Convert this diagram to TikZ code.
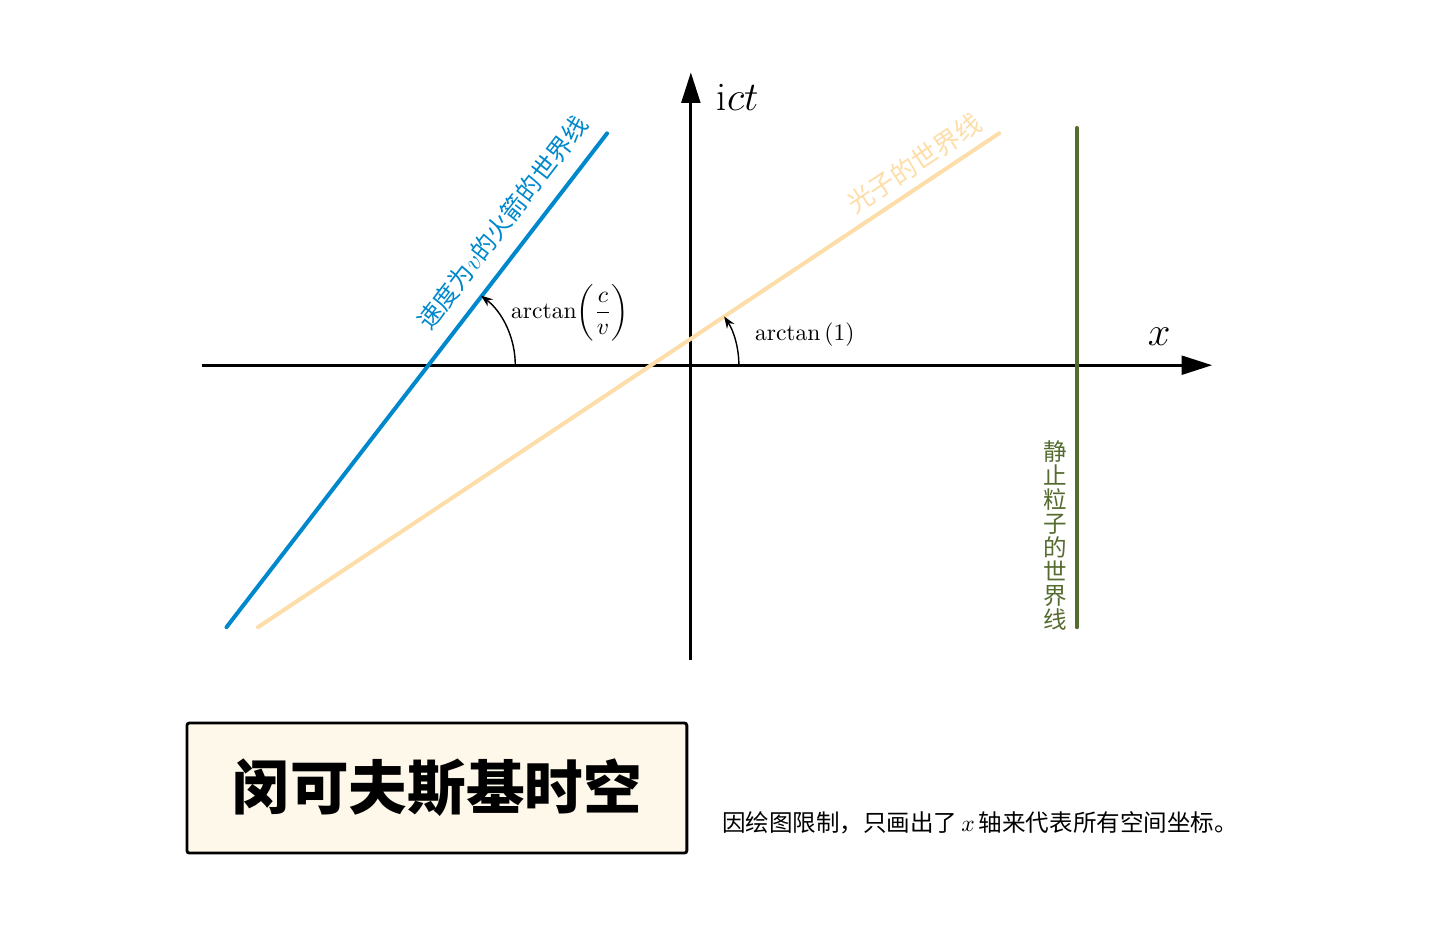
\documentclass[tikz,border=0pt]{standalone}
\usepackage{amsmath}
\usepackage{fontspec}
\newfontfamily\cjk{Noto Sans CJK SC}
\usepackage{xcolor}
\usepackage{tikz}
\usetikzlibrary{arrows.meta, positioning}

\definecolor{rocketblue}{HTML}{0088CC}
\definecolor{photonorange}{HTML}{FDDDA8}
\definecolor{restgreen}{HTML}{556B2F}
\definecolor{titlefill}{HTML}{FEF8EA}

\begin{document}
\begin{tikzpicture}[
    axis/.style={very thick, -{Triangle[length=13pt, width=8pt]}},
    worldline/.style={line width=1.7pt, line cap=round},
    anglearrow/.style={semithick, -{Stealth[length=5pt]}},
    linelabel/.style={font=\cjk\fontsize{10.5}{10.5}\selectfont},
]
    \useasboundingbox (-10.31,-8.42) rectangle (11.18,5.45);

    % Axes
    \coordinate (origin) at (0,0);
    \coordinate (x_left) at (-7.30,0);
    \coordinate (x_right) at (7.78,0);
    \coordinate (t_bottom) at (0,-4.40);
    \coordinate (t_top) at (0,4.37);
    \draw[axis] (x_left) -- (x_right);
    \draw[axis] (t_bottom) -- (t_top);
    \node[font=\LARGE] (t_label) at (0.70,4.00) {$\mathrm{i}ct$};
    \node[font=\LARGE] (x_label) at (6.99,0.42) {$x$};

    % World lines
    \coordinate (rocket_start) at (-6.93,-3.91);
    \coordinate (rocket_end) at (-1.25,3.46);
    \coordinate (photon_start) at (-6.46,-3.91);
    \coordinate (photon_end) at (4.60,3.46);
    \coordinate (rest_top) at (5.76,3.54);
    \coordinate (rest_bottom) at (5.76,-3.91);
    \draw[worldline, rocketblue] (rocket_start) -- node[pos=0.784, sloped, above=3pt, linelabel, text=rocketblue] (rocket_label) {速度为$v$的火箭的世界线} (rocket_end);
    \draw[worldline, photonorange] (photon_start) -- node[pos=0.902, sloped, above, linelabel, font=\cjk\fontsize{11}{11}\selectfont, text=photonorange] (photon_label) {光子的世界线} (photon_end);
    \draw[worldline, restgreen] (rest_top) -- node[pos=0.816, left, linelabel, font=\cjk\fontsize{10}{10.2}\selectfont, align=center, text=restgreen] (rest_label) {静\\止\\粒\\子\\的\\世\\界\\线} (rest_bottom);

    % Angles
    \coordinate (rocket_cross) at (-3.93,0);
    \coordinate (photon_cross) at (-0.593,0);
    \draw[anglearrow] ([xshift=1.31cm]rocket_cross) arc[start angle=0, end angle=52.4, radius=1.31cm];
    \draw[anglearrow] ([xshift=1.31cm]photon_cross) arc[start angle=0, end angle=33.7, radius=1.31cm];
    \node (rocket_angle) at (-1.80,0.78) {$\arctan\biggl(\dfrac{c}{v}\biggr)$};
    \node (photon_angle) at (1.70,0.45) {$\arctan\left(1\right)$};

    % Title and note
    \node[draw, very thick, rounded corners=1pt, fill=titlefill, minimum width=7.46cm, minimum height=1.94cm, font=\cjk\bfseries\Huge] (title_box) at (-3.79,-6.31) {闵可夫斯基时空};
    \node[anchor=west, font=\cjk] (note) at ([xshift=0.38cm, yshift=-0.52cm]title_box.east) {因绘图限制，只画出了\,$x$\,轴来代表所有空间坐标。};
\end{tikzpicture}
\end{document}
